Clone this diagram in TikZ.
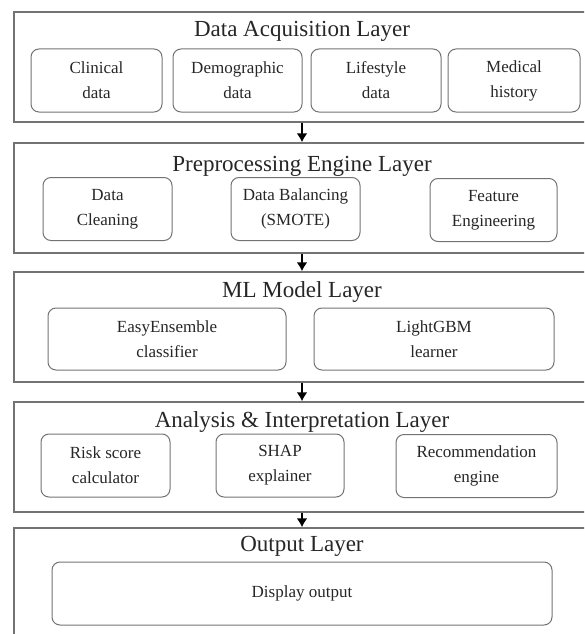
\documentclass[tikz,border=0pt]{standalone}
\usepackage{fontspec}
\setmainfont{Liberation Serif}
\usetikzlibrary{arrows.meta}
\usetikzlibrary{positioning}

\begin{document}
\begin{tikzpicture}[
		x=1pt, y=-1pt,
		line width=0.2mm,
		layer/.style={draw=black!55, line width=1.3pt, minimum width=576pt, minimum height=110pt, inner sep=0pt},
		title/.style={font=\fontsize{23}{27}\selectfont, text=black!85, inner sep=0pt},
		part/.style={draw=black!55, line width=1pt, rounded corners=8pt, minimum height=63pt, inner sep=0pt,
			align=center, text=black!85, font=\fontsize{17}{25}\selectfont},
		arrow/.style={line width=2pt, -{Latex[length=9pt,width=11pt]}},
	]
	\clip (0,0) rectangle (584,634);

	\node (acq) [layer] at (302,67) {};
	\node (pre) [layer] at (302,198) {};
	\node (ml)  [layer] at (302,327) {};
	\node (ana) [layer] at (302,457) {};
	\node (out) [layer] at (302,583) {};

	\node (acqt) [title, below=9.5pt of acq.north] {Data Acquisition Layer};
	\node (pret) [title, below=14pt of pre.north] {Preprocessing Engine Layer};
	\node (mlt)  [title, below=9.5pt of ml.north] {ML Model Layer};
	\node (anat) [title, below=9.5pt of ana.north] {Analysis \& Interpretation Layer};
	\node (outt) [title, below=9pt of out.north] {Output Layer};

	% data acquisition
	\node (clin) [part, minimum width=131pt] at (96.5,80.5) {Clinical\\data};
	\node (demo) [part, minimum width=129pt] at (237.5,80.5) {Demographic\\data};
	\node (life) [part, minimum width=130pt] at (376,80.5) {Lifestyle\\data};
	\node (hist) [part, minimum width=132pt] at (514,80.5) {Medical\\history};

	% preprocessing
	\node (clean) [part, minimum width=129pt] at (107.5,209) {Data\\Cleaning};
	\node (bal)   [part, minimum width=129pt] at (295.5,209) {Data Balancing\\(SMOTE)};
	\node (feat)  [part, minimum width=127pt] at (493.5,210) {Feature\\Engineering};

	% models
	\node (easy) [part, minimum width=238pt, minimum height=62pt] at (167,339) {EasyEnsemble\\classifier};
	\node (lgbm) [part, minimum width=240pt, minimum height=62pt] at (434,339) {LightGBM\\learner};

	% analysis
	\node (risk) [part, minimum width=129pt] at (105.5,465.5) {Risk score\\calculator};
	\node (shap) [part, minimum width=128pt] at (280,465.5) {SHAP\\explainer};
	\node (reco) [part, minimum width=161pt] at (476.5,466) {Recommendation\\engine};

	% output
	\node (disp) [part, minimum width=500pt] at (302,593.5) {Display output};

	\draw[arrow] (acq) -- (pre);
	\draw[arrow] (pre) -- (ml);
	\draw[arrow] (ml) -- (ana);
	\draw[arrow] (ana) -- (out);
\end{tikzpicture}
\end{document}
